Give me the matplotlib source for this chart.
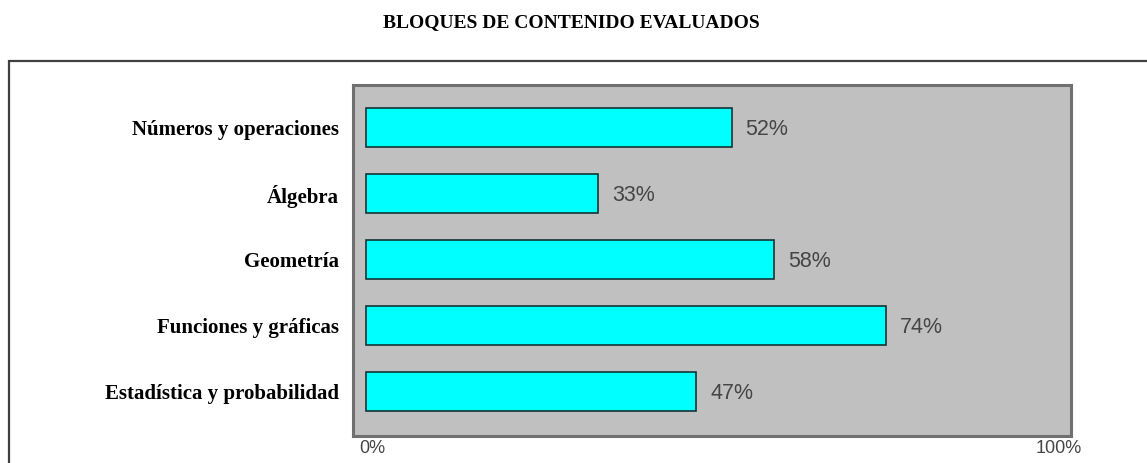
"""
Bloques de contenido evaluados - horizontal bar chart
"""

import matplotlib
matplotlib.use('Agg')
import matplotlib.pyplot as plt
import matplotlib.transforms as mtransforms
from matplotlib.patches import Rectangle

categories = ['Números y operaciones', 'Álgebra', 'Geometría',
              'Funciones y gráficas', 'Estadística y probabilidad']
percentages = [52, 33, 58, 74, 47]
tick_values = [0, 100]
tick_labels = ['0%', '100%']
title = 'BLOQUES DE CONTENIDO EVALUADOS'


def setup_fig():
    fig = plt.figure(figsize=[11.47, 4.63], dpi=100)
    # outer frame, runs off the bottom and right of the picture
    frame = Rectangle((9 / 1147, -0.2), 1.2, 0.2 + (463 - 61) / 463,
                      transform=fig.transFigure, fill=False,
                      edgecolor='#404040', linewidth=1.6, zorder=0)
    fig.patches.append(frame)
    fig.text(0.498, 0.952, title, ha='center', va='center',
             family='Liberation Serif', fontweight='bold', fontsize=14)

    ax = fig.add_axes([353 / 1147, 27 / 463, 718 / 1147, 351 / 463])
    ax.set_facecolor('#c0c0c0')
    for spine in ax.spines.values():
        spine.set_color('#707070')
        spine.set_linewidth(2.2)
    return fig, ax


def plot_bars(fig, ax):
    y = list(range(len(categories)))
    ax.barh(y, percentages, height=0.59, color='#00ffff',
            edgecolor='#143434', linewidth=1.2)
    for yi, val in zip(y, percentages):
        ax.text(val + 2.0, yi + 0.03, f'{val}%', va='center', ha='left',
                family='Liberation Sans', fontsize=15.5, color='#454545')

    ax.set_xlim(-1.85, 100.3)
    ax.set_ylim(4.67, -0.65)
    ax.set_yticks(y)
    ax.set_yticklabels(categories, family='Liberation Serif',
                       fontweight='bold', fontsize=15)
    ax.set_xticks(tick_values)
    ax.set_xticklabels(tick_labels, family='Liberation Sans', fontsize=13,
                       color='#454545')
    ax.tick_params(axis='both', length=0)
    ax.tick_params(axis='y', pad=10)
    ax.tick_params(axis='x', pad=3)

    # nudge the 0% / 100% labels like the original
    for lab, dx in zip(ax.get_xticklabels(), [6, -10]):
        off = mtransforms.ScaledTranslation(dx / 100, 0, fig.dpi_scale_trans)
        lab.set_transform(lab.get_transform() + off)


if __name__ == "__main__":
    fig, ax = setup_fig()
    plot_bars(fig, ax)
    fig.savefig('out.png', dpi=100)
